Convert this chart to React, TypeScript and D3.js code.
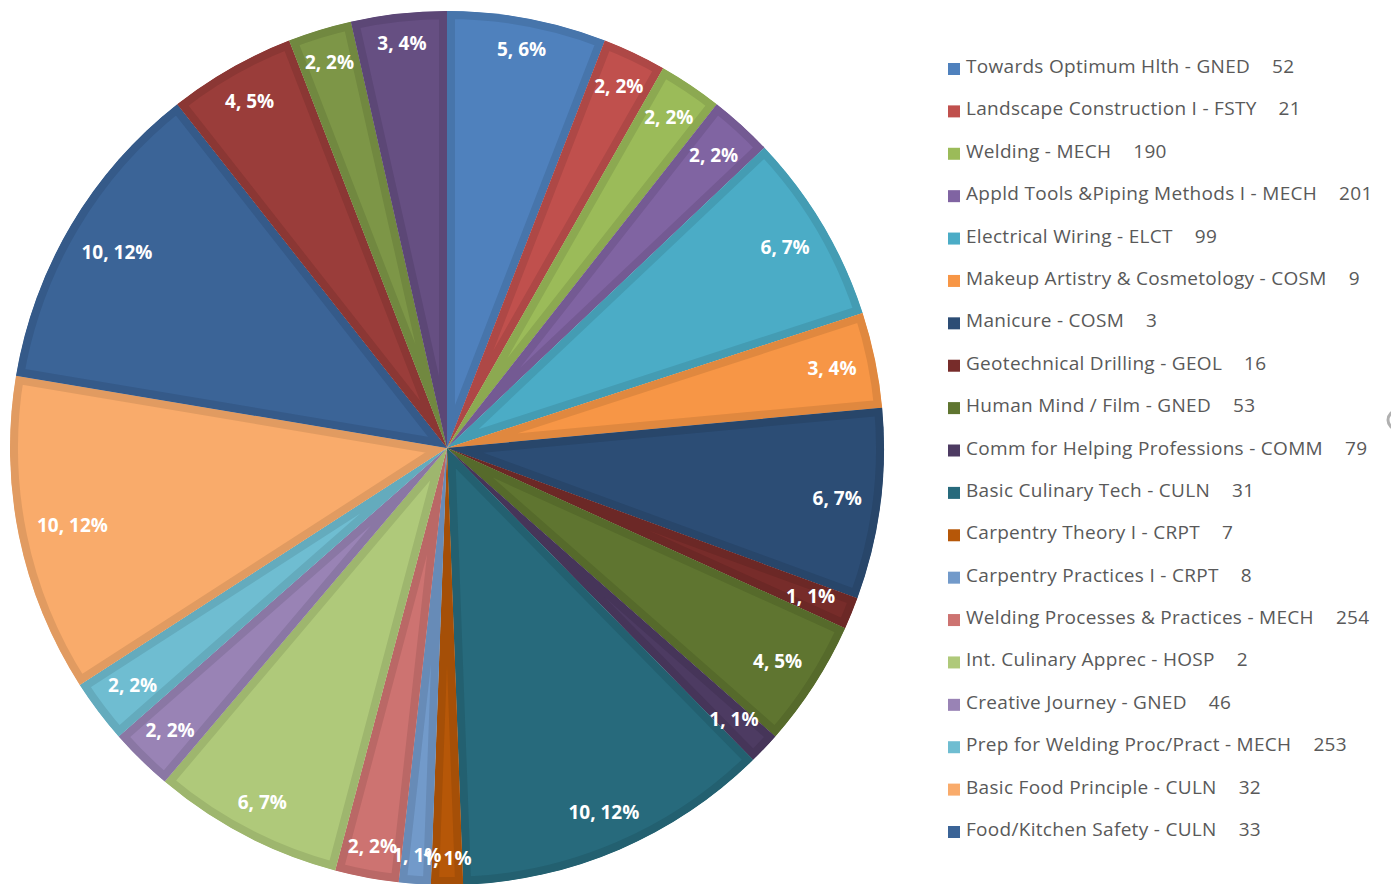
import React from "react";
import * as d3 from "d3";

const categories = [
  "Towards Optimum Hlth - GNED",
  "Landscape Construction I - FSTY",
  "Welding - MECH",
  "Appld Tools &Piping Methods I - MECH",
  "Electrical Wiring - ELCT",
  "Makeup Artistry & Cosmetology - COSM",
  "Manicure - COSM",
  "Geotechnical Drilling - GEOL",
  "Human Mind / Film - GNED",
  "Comm for Helping Professions - COMM",
  "Basic Culinary Tech - CULN",
  "Carpentry Theory I - CRPT",
  "Carpentry Practices I - CRPT",
  "Welding Processes & Practices - MECH",
  "Int. Culinary Apprec - HOSP",
  "Creative Journey - GNED",
  "Prep for Welding Proc/Pract - MECH",
  "Basic Food Principle - CULN",
  "Food/Kitchen Safety - CULN",
  "(not shown 20)",
  "(not shown 21)",
  "(not shown 22)",
];
const courseNumbers = ["52", "21", "190", "201", "99", "9", "3", "16", "53", "79", "31", "7", "8", "254", "2", "46", "253", "32", "33", "", "", ""];
const values = [5, 2, 2, 2, 6, 3, 6, 1, 4, 1, 10, 1, 1, 2, 6, 2, 2, 10, 10, 4, 2, 3];
const legendCount = 19;

const colors = [
  "#4F81BD", "#C0504D", "#9BBB59", "#8064A2", "#4BACC6", "#F79646",
  "#2C4D75", "#772C2A", "#5F7530", "#4D3B62", "#276A7C", "#B65708",
  "#729ACA", "#CD7371", "#AFC97A", "#9983B5", "#6FBDD1", "#F9AB6B",
  "#3B6497", "#9A3D3A", "#7D9647", "#664F82",
];

const W = 1391, H = 884;
const cx = 447, cy = 448, R = 437;
const LABEL_FONT = "bold 19px 'Open Sans'";

let ctx: CanvasRenderingContext2D | null = null;
function measure(text: string, font: string) {
  if (!ctx) ctx = document.createElement("canvas").getContext("2d");
  if (!ctx) return text.length * 9;
  ctx.font = font;
  return ctx.measureText(text).width;
}

export default function App() {
  const total = d3.sum(values);
  const pie = d3.pie<number>().sort(null).value((d) => d);
  const arcs = pie(values);
  const arcGen = d3.arc<d3.PieArcDatum<number>>().innerRadius(0).outerRadius(R);
  const legendY = d3.scaleLinear().domain([0, legendCount - 1]).range([66, 829]);

  return (
    <svg width={W} height={H} style={{ position: "absolute", left: 0, top: 0, background: "#fff" }}>
      <defs>
        {arcs.map((a, i) => (
          <clipPath id={`clip${i}`} key={i}>
            <path d={arcGen(a) || ""} transform={`translate(${cx},${cy})`} />
          </clipPath>
        ))}
      </defs>
      <g>
        {arcs.map((a, i) => {
          const d = arcGen(a) || "";
          const band = d3.color(colors[i])!.darker(0.28).formatHex();
          return (
            <g key={i} clipPath={`url(#clip${i})`}>
              <path d={d} transform={`translate(${cx},${cy})`} fill={colors[i]} stroke={band} strokeWidth={16} strokeLinejoin="miter" />
            </g>
          );
        })}
      </g>
      <g>
        {arcs.map((a, i) => {
          const v = values[i];
          const text = `${v}, ${Math.round((v / total) * 100)}%`;
          const theta = (a.startAngle + a.endAngle) / 2;
          const hw = measure(text, LABEL_FONT) / 2;
          const hh = 9;
          const r = 419 - (hw * Math.abs(Math.sin(theta)) + hh * Math.abs(Math.cos(theta)));
          const x = cx + r * Math.sin(theta);
          const y = cy - r * Math.cos(theta);
          return (
            <text key={i} x={x} y={y} dy="0.35em" textAnchor="middle" fill="#fff"
              style={{ font: LABEL_FONT }}>
              {text}
            </text>
          );
        })}
      </g>
      <g>
        {categories.slice(0, legendCount).map((c, i) => {
          const y = legendY(i);
          return (
            <g key={i}>
              <rect x={948} y={y - 3} width={12} height={12} fill={colors[i]} />
              <text x={966} y={y + 7} fill="#595959" style={{ font: "19px 'Open Sans'", letterSpacing: "0.3px" }}>
                {c}
                <tspan dx={22}>{courseNumbers[i]}</tspan>
              </text>
            </g>
          );
        })}
      </g>
      <circle cx={1397} cy={420} r={9} fill="none" stroke="#b0b0b0" strokeWidth={3} />
    </svg>
  );
}
